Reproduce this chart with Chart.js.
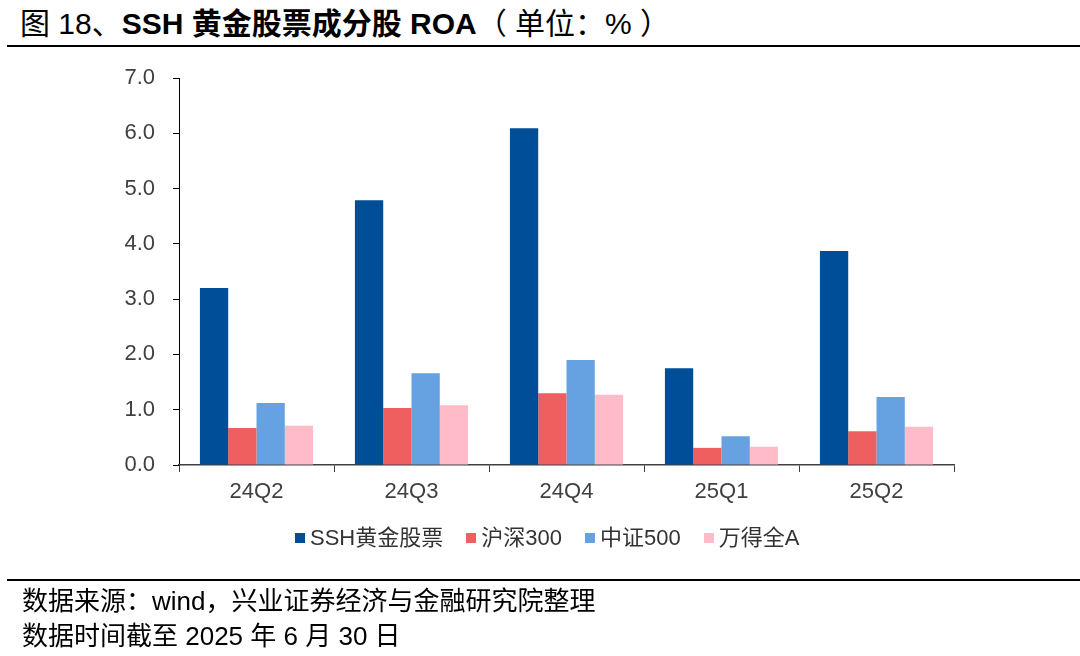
<!DOCTYPE html>
<html lang="zh">
<head>
  <meta charset="UTF-8">
  <title>SSH 黄金股票成分股 ROA</title>
  <script src="https://cdn.jsdelivr.net/npm/chart.js"></script>
  <style>
    body {
      margin: 0;
      width: 1080px;
      height: 656px;
      background: #ffffff;
      font-family: 'Liberation Sans', Arial, 'Noto Sans CJK SC', sans-serif;
      position: relative;
      overflow: hidden;
    }

    .title {
      position: absolute;
      left: 20px;
      top: 6px;
      font-size: 30px;
      line-height: 36px;
      color: #000;
      white-space: nowrap;
    }

    .title b { font-weight: bold; }

    .rule {
      position: absolute;
      left: 7px;
      right: 0;
      height: 2px;
      background: #000;
    }

    .chart-box {
      position: absolute;
      left: 0;
      top: 0;
      width: 1080px;
      height: 656px;
    }

    #legend {
      position: absolute;
      left: 295px;
      top: 524px;
      display: flex;
      font-size: 22px;
      line-height: 28px;
      color: #333;
      white-space: nowrap;
    }

    #legend span.item {
      display: flex;
      align-items: center;
      margin-right: 23px;
    }

    #legend i {
      display: inline-block;
      width: 10px;
      height: 10px;
      margin-right: 5px;
    }

    .note {
      position: absolute;
      left: 22px;
      font-size: 26px;
      line-height: 30px;
      color: #000;
      white-space: nowrap;
    }
  </style>
</head>
<body>

<div class="title">图 18、<b>SSH 黄金股票成分股 ROA</b>（ 单位：% ）</div>
<div class="rule" style="top: 45px;"></div>

<div class="chart-box">
  <canvas id="roaChart" width="1080" height="656"></canvas>
</div>
<div id="legend"></div>

<div class="rule" style="top: 579px;"></div>
<div class="note" style="top: 586px;">数据来源：wind，兴业证券经济与金融研究院整理</div>
<div class="note" style="top: 621px;">数据时间截至 2025 年 6 月 30 日</div>

<script>
  // 季度
  const quarters = ['24Q2', '24Q3', '24Q4', '25Q1', '25Q2'];

  // 各指数 ROA（%）
  const sshGold = [3.20, 4.79, 6.09, 1.75, 3.87];
  const hs300 = [0.67, 1.03, 1.30, 0.31, 0.61];
  const csi500 = [1.12, 1.66, 1.90, 0.52, 1.23];
  const windA = [0.71, 1.08, 1.27, 0.33, 0.69];

  const yTicks = [0, 1, 2, 3, 4, 5, 6, 7];

  const tickFont = { family: "'Liberation Sans', Arial, sans-serif", size: 22 };

  const chart = new Chart(document.getElementById('roaChart'), {
    type: 'bar',
    data: {
      labels: quarters,
      datasets: [
        { label: 'SSH黄金股票', data: sshGold, backgroundColor: '#004D98' },
        { label: '沪深300', data: hs300, backgroundColor: '#EF5F5F' },
        { label: '中证500', data: csi500, backgroundColor: '#66A1E2' },
        { label: '万得全A', data: windA, backgroundColor: '#FFBBC7' }
      ]
    },
    options: {
      responsive: false,
      animation: false,
      devicePixelRatio: 1,
      layout: { padding: { left: 0, right: 126, top: 78, bottom: 131 } },
      datasets: {
        bar: { categoryPercentage: 0.73, barPercentage: 1.0 }
      },
      plugins: {
        legend: { display: false },
        tooltip: { enabled: false }
      },
      scales: {
        y: {
          min: 0,
          max: 7,
          afterFit: s => { s.width = 179; },
          afterBuildTicks: s => { s.ticks = yTicks.map(v => ({ value: v })); },
          ticks: {
            padding: 18,
            color: '#404040',
            font: tickFont,
            callback: v => v.toFixed(1)
          },
          border: { color: '#000', width: 1 },
          grid: { drawOnChartArea: false, tickLength: 6, color: '#000' }
        },
        x: {
          afterFit: s => { s.height = 60; },
          ticks: { padding: 7, color: '#404040', font: tickFont },
          border: { color: '#404040', width: 1.5 },
          grid: { drawOnChartArea: false, tickLength: 7, color: '#404040', offset: true }
        }
      }
    }
  });

  // 图例按数据集生成
  const legend = document.getElementById('legend');
  chart.data.datasets.forEach(ds => {
    const item = document.createElement('span');
    item.className = 'item';
    item.innerHTML = '<i style="background:' + ds.backgroundColor + '"></i>' + ds.label;
    legend.appendChild(item);
  });
</script>

</body>
</html>
